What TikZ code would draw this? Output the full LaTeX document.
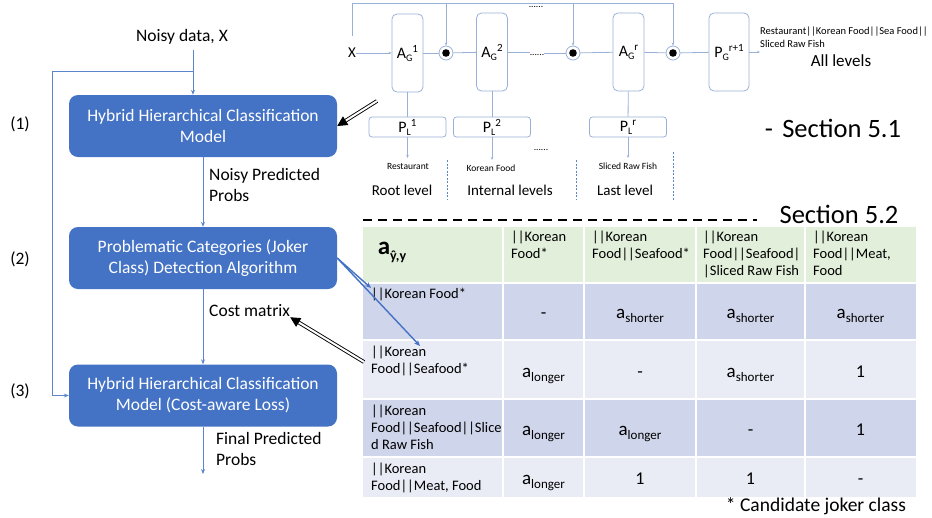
\documentclass[tikz,border=0pt]{standalone}
\usepackage{fontspec}
\setmainfont{Carlito}
\usetikzlibrary{arrows.meta}
\definecolor{boxblue}{HTML}{4472C4}
\definecolor{flowblue}{HTML}{5B86CC}
\definecolor{thinblue}{HTML}{9AB0D8}
\definecolor{hdrgreen}{HTML}{E2EFDA}
\definecolor{rowdark}{HTML}{CFD5EA}
\definecolor{rowlight}{HTML}{E9EBF5}
\newcommand\fs[2]{\fontsize{#1}{#2}\selectfont}
\newcommand\av[1]{{\fs{19}{19}a}\raisebox{-4pt}{\fs{13}{13}#1}}
\newcommand\agl[3]{#1\raisebox{-3pt}{\fs{10}{10}#2}\raisebox{6pt}{\fs{11}{11}#3}}
\begin{document}
\begin{tikzpicture}[x=1pt,y=-1pt,
  mainbox/.style={fill=boxblue, rounded corners=9pt, minimum width=268pt, minimum height=62pt, text=white, align=center, font=\fs{17.5}{21}, inner sep=0pt},
  flow/.style={draw=flowblue, line width=0.8pt, -{Stealth[length=5pt,width=4pt]}},
  lbl/.style={font=\fs{17.5}{21.5}, align=left, inner sep=0pt},
  agbox/.style={draw=thinblue, line width=0.8pt, rounded corners=5pt, minimum width=31pt, minimum height=78pt, inner sep=0pt, font=\fs{16}{16}},
  plbox/.style={draw=thinblue, line width=0.8pt, rounded corners=3pt, minimum width=77pt, minimum height=20pt, inner sep=0pt, font=\fs{16}{16}},
  thinln/.style={draw=thinblue, line width=0.8pt},
  thinarr/.style={draw=thinblue, line width=0.8pt, -{Stealth[length=3pt,width=2.5pt]}},
  odot/.style={circle, draw=thinblue, line width=0.8pt, minimum size=14pt, inner sep=0pt},
  small/.style={font=\fs{9.5}{12}, inner sep=0pt, align=left},
  level/.style={font=\fs{15}{15}, inner sep=0pt},
  divider/.style={draw=flowblue, line width=0.8pt, dash pattern=on 2pt off 1.5pt},
  dbl/.style={double=white, double distance=2pt, line width=0.9pt, draw=black, -{Triangle[length=10pt,width=10pt]}},
  jarr/.style={draw=boxblue, line width=1.4pt, -{Stealth[length=6pt,width=5pt]}},
  ttext/.style={font=\fs{14.5}{16.7}, align=left, inner sep=0pt, anchor=north west},
  vtext/.style={font=\fs{18}{18}, inner sep=0pt, anchor=base},
  big/.style={font=\fs{26.5}{26.5}, inner sep=0pt},
]
\useasboundingbox (0,0) rectangle (932,517);

% ---------- left flow ----------
\node[mainbox] (b1) at (203,126) {Hybrid Hierarchical Classification\\Model};
\node[mainbox] (b2) at (203,258) {Problematic Categories (Joker\\Class) Detection Algorithm};
\node[mainbox] (b3) at (203,395.5) {Hybrid Hierarchical Classification\\Model (Cost-aware Loss)};
\node[lbl] (nd) at (182,37) {Noisy data, X};
\coordinate (ns) at (193,50);
\coordinate (nb) at (193,71);
\coordinate (fb) at (52,71);
\draw[flow] (ns) -- (ns |- b1.north);
\draw[flow] (nb) -- (fb) |- (b3.west);
\draw[flow] (b1) -- (b2);
\node[lbl, anchor=north west] (npp) at (209,168) {Noisy Predicted\\Probs};
\draw[flow] (b2) -- (b3);
\node[lbl, anchor=west] (cm) at (209,311) {Cost matrix};
\coordinate (e3) at (203,474);
\draw[flow] (b3) -- (e3);
\node[lbl, anchor=north west] (fpp) at (216,432) {Final Predicted\\Probs};
\node[lbl] (n1) at (20,124) {(1)};
\node[lbl] (n2) at (20,259) {(2)};
\node[lbl] (n3) at (20,391) {(3)};

% ---------- top diagram ----------
\node[level] (tx) at (352,53) {X};
\node[agbox] (ag1) at (407.5,53) {\agl{A}{G}{1}};
\node[agbox] (ag2) at (492,52) {\agl{A}{G}{2}};
\node[agbox] (agr) at (628.5,52) {\agl{A}{G}{r}};
\node[agbox, minimum width=40pt] (pg) at (729,52) {\agl{P}{G}{r+1}};
\node[odot] (o1) at (446,53) {};
\node[odot] (o2) at (573,53) {};
\node[odot] (o3) at (673,53) {};
\fill (o1.center) circle (3.8pt);
\fill (o2.center) circle (3.8pt);
\fill (o3.center) circle (3.8pt);
\node[small, anchor=base] (mdots) at (537,55) {......};
\node[small, anchor=base] (tdots) at (536,7) {......};
\draw[thinarr] (tx) -- (ag1.west);
\draw[thinln] (ag1) -- (o1);
\draw[thinln] (o1) -- (ag2);
\draw[thinln] (ag2.east) -- (ag2.east -| mdots.west);
\draw[thinln] (mdots.east |- o2) -- (o2);
\draw[thinln] (o2) -- (agr);
\draw[thinln] (agr) -- (o3);
\draw[thinln] (o3) -- (pg);
\coordinate (bs) at (352,36);
\coordinate (tl) at (352,3);
\coordinate (tr) at (673,3);
\draw[thinarr] (bs) -- (tl) -- (tr) -- (o3.north);
\draw[thinarr] (o1 |- tl) -- (o1.north);
\draw[thinarr] (o2 |- tl) -- (o2.north);
\node[small, font=\fs{10.5}{12.5}, anchor=west] (allt) at (760,37) {Restaurant||Korean Food||Sea Food||\\Sliced Raw Fish};
\draw[thinarr] (pg.east) -- (pg.east -| allt.west);
\node[level, font=\fs{17}{17}] (alll) at (841,61) {All levels};
\node[big] (s51) at (833,128) {-\hspace{0.35em}Section 5.1};

\node[plbox] (pl1) at (407.5,127) {\agl{P}{L}{1}};
\node[plbox] (pl2) at (492,127) {\agl{P}{L}{2}};
\node[plbox] (plr) at (628,127) {\agl{P}{L}{r}};
\draw[thinln] (ag1) -- (pl1);
\draw[thinln] (ag2) -- (pl2);
\draw[thinln] (agr) -- (plr);
\node[small, anchor=base] (rest) at (408,169) {Restaurant};
\node[small, anchor=base] (kf) at (491,171) {Korean Food};
\node[small, anchor=base] (srf) at (628,169) {Sliced Raw Fish};
\draw[thinarr] (pl1) -- (pl1.south |- 0,158);
\draw[thinarr] (pl2) -- (pl2.south |- 0,160);
\draw[thinarr] (plr) -- (plr.south |- 0,158);
\node[small, anchor=base] (bdots) at (541,150) {......};
\node[level] (rl) at (402,190) {Root level};
\node[level] (il) at (510,190) {Internal levels};
\node[level] (ll) at (625,190) {Last level};
\draw[divider] (447,160) -- (447,200);
\draw[divider] (576,160) -- (576,200);
\draw[divider] (673,152) -- (673,200);

% ---------- section 5.2 ----------
\draw[line width=2.5pt, dash pattern=on 9pt off 6pt] (363,220) -- (757,220);
\node[big] (s52) at (839,214) {Section 5.2};

% table
\fill[hdrgreen] (363,227) rectangle (916,283);
\fill[rowdark] (363,283) rectangle (916,340);
\fill[rowlight] (363,340) rectangle (916,399);
\fill[rowdark] (363,399) rectangle (916,457);
\fill[rowlight] (363,457) rectangle (916,497);
\foreach \yy in {283,340,399,457} \draw[white, line width=2pt] (363,\yy) -- (916,\yy);
\foreach \xx in {503,584,696,805} \draw[white, line width=1.5pt] (\xx,227) -- (\xx,497);

\node[inner sep=0pt] (corner) at (392,252) {\bfseries{\fs{25}{25}a}\raisebox{-6pt}{\fs{14}{14}ŷ,y}};
\node[ttext] (h1) at (511,231) {||Korean\\Food*};
\node[ttext] (h2) at (592,231) {||Korean\\Food||Seafood*};
\node[ttext] (h3) at (703,231) {||Korean\\Food||Seafood|\\|Sliced Raw Fish};
\node[ttext] (h4) at (813,231) {||Korean\\Food||Meat,\\Food};

\node[ttext] (r1l) at (371,288) {||Korean Food*};
\node[ttext] (r2l) at (371,346) {||Korean\\Food||Seafood*};
\node[ttext] (r3l) at (371,405) {||Korean\\Food||Seafood||Slice\\d Raw Fish};
\node[ttext] (r4l) at (371,463) {||Korean\\Food||Meat, Food};

\node[vtext] (v11) at (543.5,318) {-};
\node[vtext] (v12) at (640,318) {\av{shorter}};
\node[vtext] (v13) at (750.5,318) {\av{shorter}};
\node[vtext] (v14) at (860.5,318) {\av{shorter}};
\node[vtext] (v21) at (543.5,377) {\av{longer}};
\node[vtext] (v22) at (640,377) {-};
\node[vtext] (v23) at (750.5,377) {\av{shorter}};
\node[vtext] (v24) at (860.5,377) {1};
\node[vtext] (v31) at (543.5,435) {\av{longer}};
\node[vtext] (v32) at (640,435) {\av{longer}};
\node[vtext] (v33) at (750.5,435) {-};
\node[vtext] (v34) at (860.5,435) {1};
\node[vtext] (v41) at (543.5,484) {\av{longer}};
\node[vtext] (v42) at (640,484) {1};
\node[vtext] (v43) at (750.5,484) {1};
\node[vtext] (v44) at (860.5,484) {-};

\node[inner sep=0pt, font=\fs{19.5}{19.5}] (cand) at (816,506) {* Candidate joker class};

% connectors between parts
\coordinate (da1) at (377,101);
\draw[dbl] (da1) -- (b1.east);
\coordinate (da2) at (364,362);
\draw[dbl] (da2) -- (cm.south east);
\draw[jarr] (b2.east) -- (r1l.north west);
\draw[jarr] (b2.east) -- (r2l.north);
\end{tikzpicture}
\end{document}
